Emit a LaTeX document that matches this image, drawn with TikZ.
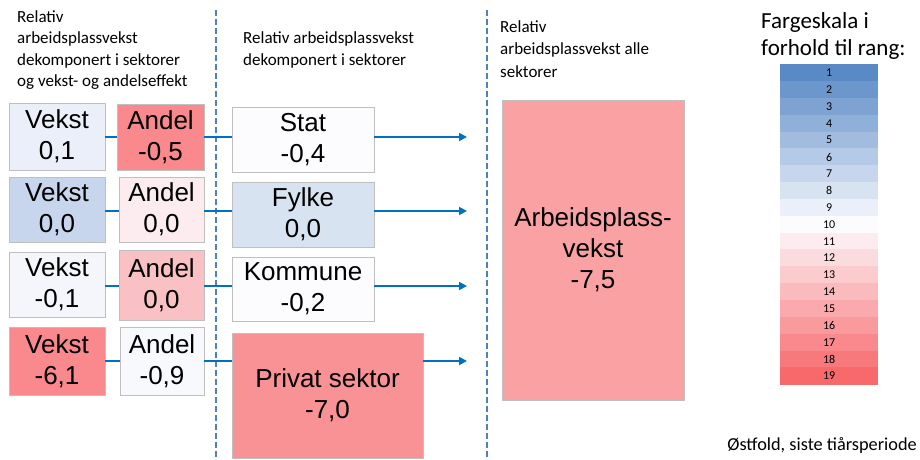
\documentclass[tikz,border=0pt]{standalone}
\usepackage{fontspec}
\setmainfont{Liberation Sans}
\newfontfamily\calfont{Carlito}
\usetikzlibrary{arrows.meta}
\definecolor{sblue}{HTML}{5A8AC6}
\definecolor{swhite}{HTML}{FCFCFF}
\definecolor{sred}{HTML}{F8696B}
\definecolor{boxgray}{HTML}{BFBFBF}
\definecolor{connblue}{HTML}{0070C0}
\definecolor{divblue}{HTML}{4F81BD}
\colorlet{cVa}{swhite!89!sblue}
\colorlet{cAa}{sred!78!swhite}
\colorlet{cSa}{swhite}
\colorlet{cVb}{swhite!67!sblue}
\colorlet{cAb}{sred!11!swhite}
\colorlet{cSb}{swhite!78!sblue}
\colorlet{cVc}{swhite!95!sblue}
\colorlet{cAc}{sred!40!swhite}
\colorlet{cSc}{swhite}
\colorlet{cVd}{sred!78!swhite}
\colorlet{cAd}{swhite!97!sblue}
\colorlet{cSd}{sred!72!swhite}
\colorlet{cBig}{sred!62!swhite}
\tikzset{
  box/.style={draw=boxgray, line width=0.8pt, inner sep=0pt, align=center,
    font=\fontsize{26}{31}\selectfont, text=black},
  conn/.style={draw=connblue, line width=1.8pt},
  arr/.style={conn, -{Triangle[length=8pt,width=8pt]}},
  divider/.style={draw=divblue, line width=2.5pt, dash pattern=on 6pt off 3pt},
  hdr/.style={font=\calfont\fontsize{17}{20}\selectfont, inner sep=0pt, anchor=base west},
  bighdr/.style={font=\calfont\fontsize{23}{27}\selectfont, inner sep=0pt, anchor=base west},
  scalecell/.style={inner sep=0pt, minimum width=98pt, minimum height=17.2pt,
    font=\calfont\fontsize{12}{14}\selectfont, anchor=north west},
}
\begin{document}
\begin{tikzpicture}[x=1pt,y=-1pt]
\useasboundingbox (0,0) rectangle (920,459);
% dividers
\coordinate (d1t) at (216,10); \coordinate (d1b) at (216,459);
\coordinate (d2t) at (487,10); \coordinate (d2b) at (487,459);
\draw[divider] (d1t) -- (d1b);
\draw[divider] (d2t) -- (d2b);
% headers
\node[hdr] (ha1) at (17,22) {Relativ};
\node[hdr] (ha2) at (17,43) {arbeidsplassvekst};
\node[hdr] (ha3) at (17,65) {dekomponert i sektorer};
\node[hdr] (ha4) at (17,86) {og vekst- og andelseffekt};
\node[hdr] (hb1) at (243,43) {Relativ arbeidsplassvekst};
\node[hdr] (hb2) at (243,65) {dekomponert i sektorer};
\node[hdr] (hc1) at (500,32) {Relativ};
\node[hdr] (hc2) at (500,54) {arbeidsplassvekst alle};
\node[hdr] (hc3) at (500,77) {sektorer};
\node[bighdr] (hd1) at (761,28) {Fargeskala i};
\node[bighdr] (hd2) at (761,55) {forhold til rang:};
% arrow tips
\coordinate (t1) at (467,137);
\coordinate (t2) at (467,211);
\coordinate (t3) at (467,286);
\coordinate (t4) at (467,361);
% row 1
\node[box, fill=cVa, minimum width=96pt, minimum height=67pt] (v1) at (57,136.5) {Vekst\\0,1};
\node[box, fill=cAa, minimum width=87pt, minimum height=66pt] (a1) at (160.5,137) {Andel\\-0,5};
\node[box, fill=cSa, minimum width=142pt, minimum height=65pt] (s1) at (303,139.5) {Stat\\-0,4};
% row 2
\node[box, fill=cVb, minimum width=96pt, minimum height=65pt] (v2) at (57,209.5) {Vekst\\0,0};
\node[box, fill=cAb, minimum width=85pt, minimum height=65pt] (a2) at (161.5,209.5) {Andel\\0,0};
\node[box, fill=cSb, minimum width=142pt, minimum height=65pt] (s2) at (303,214.5) {Fylke\\0,0};
% row 3
\node[box, fill=cVc, minimum width=96pt, minimum height=65pt] (v3) at (57,284.5) {Vekst\\-0,1};
\node[box, fill=cAc, minimum width=85pt, minimum height=70pt] (a3) at (161.5,285) {Andel\\0,0};
\node[box, fill=cSc, minimum width=142pt, minimum height=64pt] (s3) at (303,289) {Kommune\\-0,2};
% row 4
\node[box, fill=cVd, minimum width=96pt, minimum height=68pt] (v4) at (57,361) {Vekst\\-6,1};
\node[box, fill=cAd, minimum width=84pt, minimum height=68pt] (a4) at (162,361) {Andel\\-0,9};
\node[box, fill=cSd, minimum width=191pt, minimum height=125pt] (s4) at (327.5,395.5) {Privat sektor\\-7,0};
% big box
\node[box, fill=cBig, minimum width=182pt, minimum height=300pt] (big) at (593,250) {Arbeidsplass-\\vekst\\-7,5};
% connectors
\foreach \r in {1,2,3,4}{
  \draw[conn] (v\r.east |- t\r) -- (a\r.west |- t\r);
  \draw[conn] (a\r.east |- t\r) -- (s\r.west |- t\r);
  \draw[arr] (s\r.east |- t\r) -- (t\r);
}
% colour scale
\foreach \i in {1,...,19}{
  \pgfmathsetmacro{\yy}{64+(\i-1)*16.842}
  \ifnum\i<11
    \pgfmathtruncatemacro{\p}{round((\i-1)*100/9)}
    \colorlet{cc}{swhite!\p!sblue}
  \else
    \pgfmathtruncatemacro{\p}{round((\i-10)*100/9)}
    \colorlet{cc}{sred!\p!swhite}
  \fi
  \node[scalecell, fill=cc] (sc\i) at (780,\yy) {\i};
}
% footer
\node[font=\calfont\fontsize{18.3}{22}\selectfont, inner sep=0pt, anchor=base east] (foot) at (917,450) {Østfold, siste tiårsperiode};
\end{tikzpicture}
\end{document}
